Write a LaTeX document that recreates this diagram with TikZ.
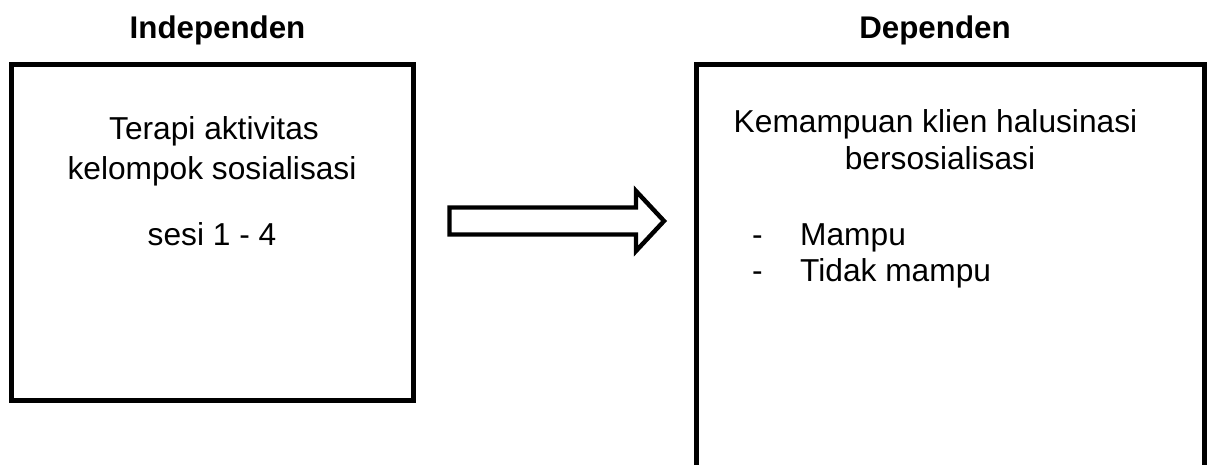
\documentclass[tikz,border=0pt]{standalone}
\usepackage{fontspec}
\setmainfont{Liberation Sans}
\begin{document}
\begin{tikzpicture}[x=1pt,y=-1pt,
  boxstyle/.style={draw=black,line width=4.8pt,fill=none,inner sep=0pt},
  txt/.style={anchor=base,inner sep=0pt,font=\fontsize{31.7}{38}\selectfont},
  headtxt/.style={anchor=base,inner sep=0pt,font=\fontsize{31.3}{38}\selectfont\bfseries},
  bigarrow/.style={draw=black,line width=4.4pt,line join=miter,fill=white}]
\useasboundingbox (0,0) rectangle (1210,465);
\clip (0,0) rectangle (1210,465);
% boxes
\node[boxstyle,minimum width=402pt,minimum height=336pt] (left) at (212.5,232.5) {};
\node[boxstyle,minimum width=508pt,minimum height=456pt] (right) at (950.5,292.5) {};
% headings
\node[headtxt] (hIn) at (217.5,39) {Independen};
\node[headtxt] (hDe) at (935,39) {Dependen};
% left text
\node[txt] (l1) at (214,140) {Terapi aktivitas};
\node[txt] (l2) at (212,180) {kelompok sosialisasi};
\node[txt] (l3) at (212,246) {sesi 1 - 4};
% right text
\node[txt] (r1) at (935.5,133) {Kemampuan klien halusinasi};
\node[txt] (r2) at (940,170) {bersosialisasi};
\node[txt,anchor=base west] (d1) at (752,245) {-};
\node[txt,anchor=base west] (m1) at (800,245) {Mampu};
\node[txt,anchor=base west] (d2) at (752,281) {-};
\node[txt,anchor=base west] (m2) at (800,281) {Tidak mampu};
% block arrow
\coordinate (aTail) at (449.5,221);
\coordinate (aTip) at (664,221);
\draw[bigarrow] (aTail) ++(0,-13.5) -- ++(186.5,0) -- ++(0,-16.5)
  -- (aTip) -- ++(-28,30) -- ++(0,-16.5) -- ++(-186.5,0) -- cycle;
\end{tikzpicture}
\end{document}
